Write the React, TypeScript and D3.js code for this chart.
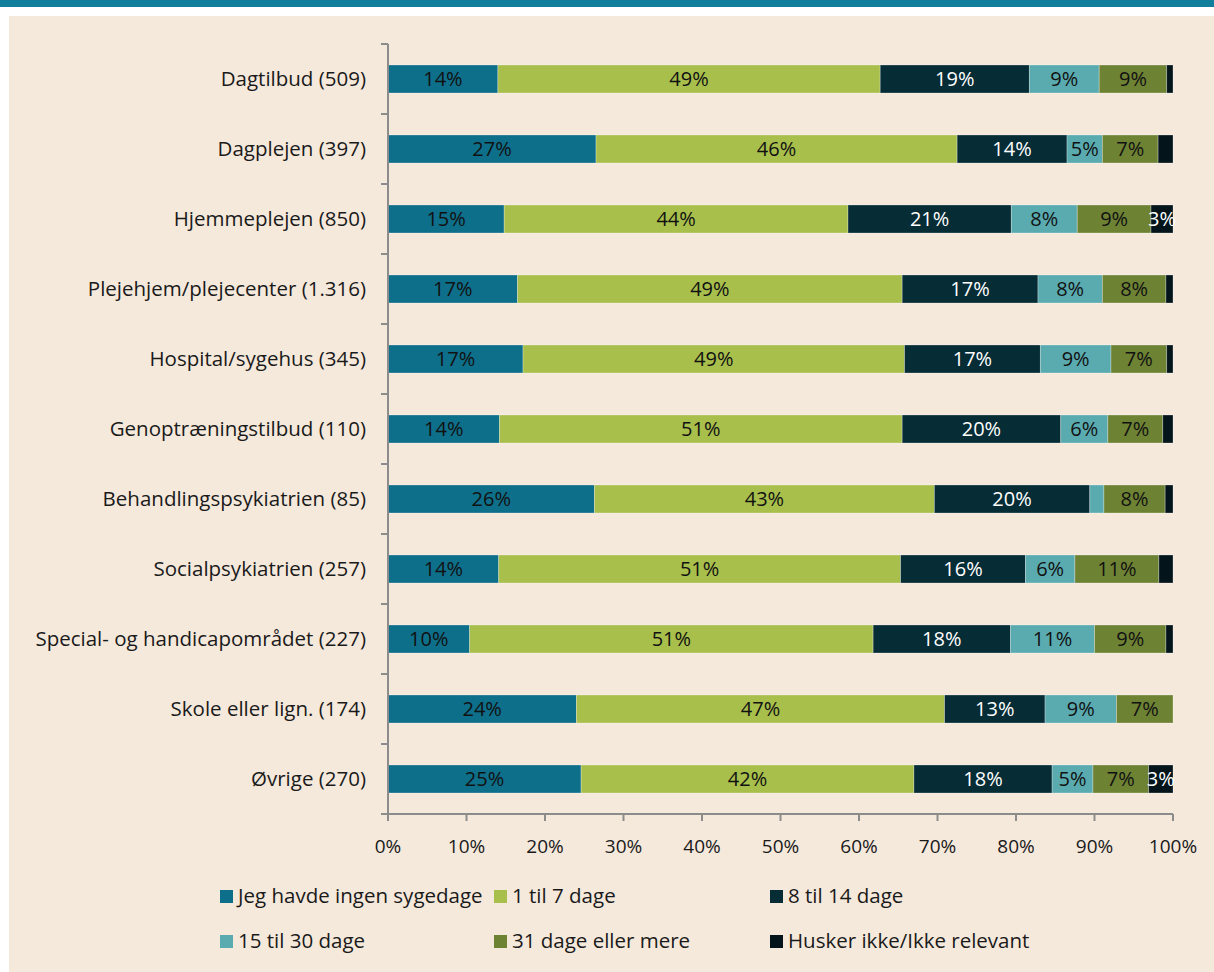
import { useEffect, useRef } from 'react';
import * as d3 from 'd3';

// Categories (top to bottom)
const categories = [
  'Dagtilbud (509)',
  'Dagplejen (397)',
  'Hjemmeplejen (850)',
  'Plejehjem/plejecenter (1.316)',
  'Hospital/sygehus (345)',
  'Genoptræningstilbud (110)',
  'Behandlingspsykiatrien (85)',
  'Socialpsykiatrien (257)',
  'Special- og handicapområdet (227)',
  'Skole eller lign. (174)',
  'Øvrige (270)',
];

const seriesNames = [
  'Jeg havde ingen sygedage',
  '1 til 7 dage',
  '8 til 14 dage',
  '15 til 30 dage',
  '31 dage eller mere',
  'Husker ikke/Ikke relevant',
];

// Percent values per series, in category order
const ingen = [14.0, 26.5, 14.8, 16.5, 17.2, 14.2, 26.3, 14.1, 10.4, 24.0, 24.6];
const til7 = [48.7, 46.0, 43.8, 49.0, 48.6, 51.3, 43.3, 51.2, 51.4, 46.9, 42.4];
const til14 = [19.0, 14.0, 20.8, 17.3, 17.3, 20.2, 19.8, 15.9, 17.5, 12.8, 17.6];
const til30 = [8.9, 4.5, 8.4, 8.2, 9.0, 6.0, 1.8, 6.3, 10.7, 9.1, 5.2];
const over31 = [8.6, 7.1, 9.4, 8.1, 7.1, 7.0, 7.8, 10.7, 9.1, 7.2, 7.1];
const husker = [0.8, 1.9, 2.8, 0.9, 0.8, 1.3, 1.0, 1.8, 0.9, 0.0, 3.1];

const xTicks = [0, 10, 20, 30, 40, 50, 60, 70, 80, 90, 100];

const colors = ['#0e6f8a', '#a8bf4c', '#062c36', '#5aabb0', '#6e8234', '#03141a'];
const labelColors = ['#111', '#111', '#fff', '#111', '#111', '#fff'];

const FONT = '"Open Sans", "Noto Sans", sans-serif';

const App = () => {
  const svgRef = useRef<SVGSVGElement | null>(null);

  useEffect(() => {
    const width = 1214;
    const height = 972;
    const left = 388;
    const right = 1173;
    const top = 44;
    const bottom = 814;

    const svg = d3.select(svgRef.current);
    svg.selectAll('*').remove();
    svg.attr('width', width).attr('height', height).attr('viewBox', [0, 0, width, height]);

    // Background: top band, white gap, beige panel
    svg.append('rect').attr('width', width).attr('height', height).attr('fill', '#ffffff');
    svg.append('rect').attr('width', width).attr('height', 7).attr('fill', '#117e9c');
    svg.append('rect').attr('x', 9).attr('y', 16).attr('width', width - 9).attr('height', height - 16).attr('fill', '#f5e9dc');

    const rows = categories.map((c, i) => ({
      cat: c,
      vals: [ingen[i], til7[i], til14[i], til30[i], over31[i], husker[i]],
    }));

    const x = d3.scaleLinear().domain([0, 100]).range([left, right]);
    const y = d3.scaleBand().domain(categories).range([top, bottom]).paddingInner(0.6).paddingOuter(0.3);

    // Bars
    const g = svg.append('g');
    rows.forEach(r => {
      let acc = 0;
      r.vals.forEach((v, k) => {
        const x0 = acc;
        acc += v;
        if (v <= 0) return;
        g.append('rect')
          .attr('x', x(x0))
          .attr('y', y(r.cat)!)
          .attr('width', x(acc) - x(x0))
          .attr('height', y.bandwidth())
          .attr('fill', colors[k])
          .attr('stroke', 'rgba(255,255,255,0.35)')
          .attr('stroke-width', 0.8);
        if (v >= 2.5) {
          g.append('text')
            .attr('x', x(x0 + v / 2))
            .attr('y', y(r.cat)! + y.bandwidth() / 2)
            .attr('dy', '0.36em')
            .attr('text-anchor', 'middle')
            .attr('fill', labelColors[k])
            .style('font', `20px ${FONT}`)
            .text(`${Math.round(v)}%`);
        }
      });
    });

    const axisColor = '#8c8c8c';

    // Y axis line + category ticks
    svg.append('line')
      .attr('x1', left).attr('x2', left).attr('y1', top).attr('y2', bottom)
      .attr('stroke', axisColor).attr('stroke-width', 2);
    d3.range(categories.length).forEach(i => {
      const yy = top + i * y.step();
      svg.append('line')
        .attr('x1', left - 7).attr('x2', left).attr('y1', yy).attr('y2', yy)
        .attr('stroke', axisColor).attr('stroke-width', 2);
    });

    // Category labels
    svg.append('g')
      .selectAll('text')
      .data(categories)
      .join('text')
      .attr('x', 366)
      .attr('y', d => y(d)! + y.bandwidth() / 2)
      .attr('dy', '0.36em')
      .attr('text-anchor', 'end')
      .attr('fill', '#1a1a1a')
      .style('font', `20.5px ${FONT}`)
      .text(d => d);

    // X axis
    svg.append('line')
      .attr('x1', left - 7).attr('x2', right).attr('y1', bottom).attr('y2', bottom)
      .attr('stroke', axisColor).attr('stroke-width', 2);
    xTicks.forEach(t => {
      svg.append('line')
        .attr('x1', x(t)).attr('x2', x(t)).attr('y1', bottom).attr('y2', bottom + 7)
        .attr('stroke', axisColor).attr('stroke-width', 2);
      svg.append('text')
        .attr('x', x(t))
        .attr('y', 846)
        .attr('dy', '0.36em')
        .attr('text-anchor', 'middle')
        .attr('fill', '#1a1a1a')
        .style('font', `19px ${FONT}`)
        .text(`${t}%`);
    });

    // Legend
    const legX = [220, 494, 770];
    const legY = [896, 941];
    seriesNames.forEach((name, k) => {
      const lx = legX[k % 3];
      const ly = legY[Math.floor(k / 3)];
      svg.append('rect')
        .attr('x', lx).attr('y', ly - 6).attr('width', 13).attr('height', 13)
        .attr('fill', colors[k]);
      svg.append('text')
        .attr('x', lx + 18)
        .attr('y', ly)
        .attr('dy', '0.36em')
        .attr('fill', '#1a1a1a')
        .style('font', `20.5px ${FONT}`)
        .text(name);
    });
  }, []);

  return (
    <div style={{ position: 'absolute', left: 0, top: 0 }}>
      <svg ref={svgRef}></svg>
    </div>
  );
};

export default App;
